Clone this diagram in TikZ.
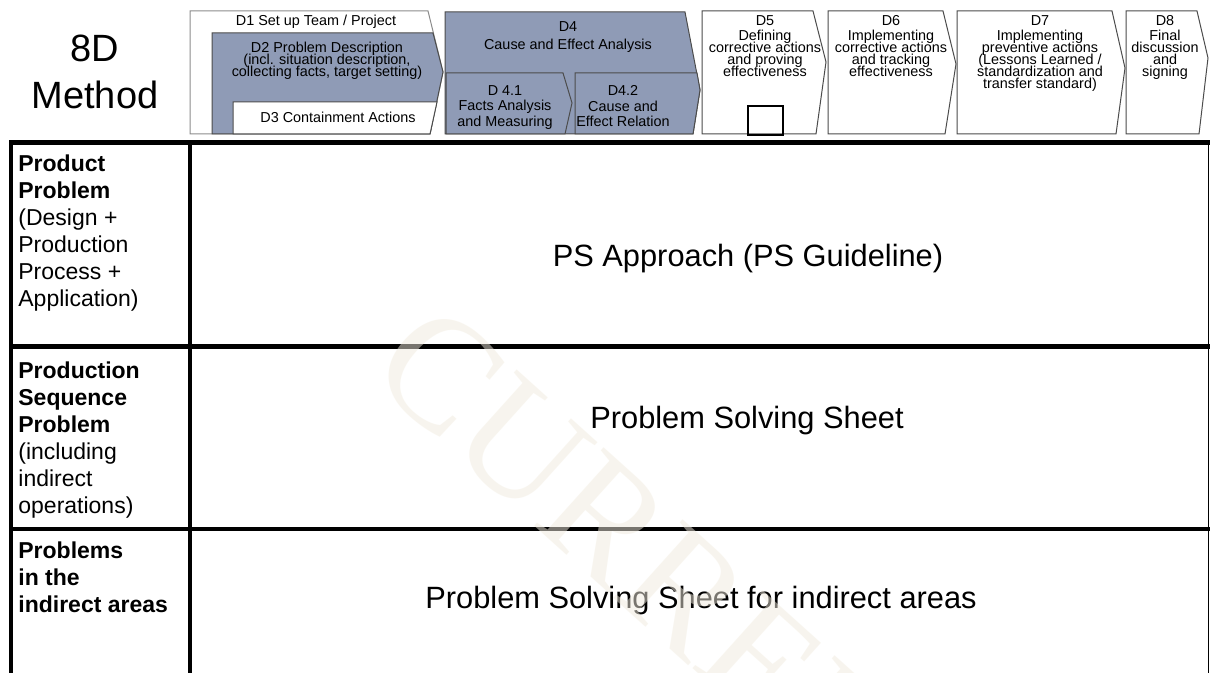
\documentclass[tikz,border=0pt]{standalone}
\usepackage{fontspec}
\setmainfont{Liberation Sans}
\newfontfamily\stampfont{Liberation Serif}
\usetikzlibrary{positioning}
\definecolor{stepblue}{RGB}{143,155,182}
\definecolor{stampcolor}{RGB}{241,235,222}
\newcommand{\hdrfont}{\fontsize{7.2}{6}\selectfont\lineskiplimit=-10pt}

\begin{document}
\begin{tikzpicture}[x=0.5pt,y=-0.5pt]
    \tikzstyle{chevwhite} = [draw=black!70,line width=0.5pt,fill=white]
    \tikzstyle{chevblue} = [chevwhite,fill=stepblue]
    \tikzstyle{hdr} = [font=\hdrfont,align=center,inner sep=0,anchor=north]
    \tikzstyle{rowhead} = [font=\fontsize{11.5}{13.5}\selectfont,align=left,inner sep=0,anchor=north west]
    \tikzstyle{rowtext} = [font=\fontsize{15.4}{18}\selectfont,inner sep=0,anchor=base]
    \tikzstyle{tableline} = [line width=2.4pt]
      \clip (0,0) rectangle (1210,673);
      \fill[white] (0,0) rectangle (1210,673);
      \draw[chevwhite,draw=black!45] (190,11) -- (428,11) -- (443,72) -- (430,134) -- (190,134) -- cycle;
      \draw[chevblue] (212,33) -- (433,33) -- (443,72) -- (430,134) -- (212,134) -- cycle;
      \draw[chevwhite] (233,102) -- (437,102) -- (430,134) -- (233,134) -- cycle;
      \draw[chevblue] (445,12) -- (685,12) -- (700,90) -- (693,134) -- (445,134) -- cycle;
      \draw[chevblue] (446,73) -- (563,73) -- (572,103) -- (565,134) -- (446,134) -- cycle;
      \draw[chevblue] (575,73) -- (697,73) -- (700,90) -- (693,134) -- (575,134) -- cycle;
      \foreach \l/\t/\tx/\ty/\b in {702/813/826/62/816,828/943/956/64/945,957/1112/1125/68/1116,1126/1197/1208/58/1199}
        \draw[chevwhite] (\l,11) -- (\t,11) -- (\tx,\ty) -- (\b,134) -- (\l,134) -- cycle;
      \draw[line width=0.6pt] (748,106) rectangle (783,135);
      \node[font=\fontsize{19}{23.5}\selectfont,align=center,inner sep=0,anchor=north] (title) at (95,35) {8D\\Method};
      \node[hdr] (d1) at (316,15) {D1 Set up Team / Project};
      \node[hdr] (d2) at (327,42) {D2 Problem Description\\(incl. situation description,\\collecting facts, target setting)};
      \node[hdr] (d3) at (338,112) {D3 Containment Actions};
      \node[hdr] (d4) at (568,21) {D4\\[3pt]Cause and Effect Analysis};
      \node[hdr,font=\fontsize{7.2}{7.8}\selectfont] (d41) at (505,85) {D 4.1\\Facts Analysis\\and Measuring};
      \node[hdr,font=\fontsize{7.2}{7.8}\selectfont] (d42) at (623,85) {D4.2\\Cause and\\Effect Relation};
      \node[hdr] (d5) at (765,15) {D5\\[1.5pt]Defining\\corrective actions\\and proving\\effectiveness};
      \node[hdr] (d6) at (891,15) {D6\\[1.5pt]Implementing\\corrective actions\\and tracking\\effectiveness};
      \node[hdr] (d7) at (1040,15) {D7\\[1.5pt]Implementing\\preventive actions\\(Lessons Learned /\\standardization and\\transfer standard)};
      \node[hdr] (d8) at (1165,15) {D8\\[1.5pt]Final\\discussion\\and\\signing};
      \node[rowhead] (prod) at (18,154) {\textbf{Product}\\\textbf{Problem}\\(Design +\\Production\\Process +\\Application)};
      \node[rowhead] (seq) at (18,361) {\textbf{Production}\\\textbf{Sequence}\\\textbf{Problem}\\(including\\indirect\\operations)};
      \node[rowhead] (ind) at (18,541) {\textbf{Problems}\\\textbf{in the}\\\textbf{indirect areas}};
      \node[rowtext] (ps) at (748,267) {PS Approach (PS Guideline)};
      \node[rowtext] (pss) at (747,429) {Problem Solving Sheet};
      \node[rowtext] (pssi) at (701,608) {Problem Solving Sheet for indirect areas};
      \draw[tableline] (9,142.5) -- (1210,142.5);
      \draw[tableline] (9,346.5) -- (1210,346.5);
      \draw[tableline] (9,529) -- (1210,529);
      \draw[tableline] (11,141) -- (11,673);
      \draw[tableline] (190,141) -- (190,673);
      \draw[line width=0.7pt] (1208.5,142) -- (1208.5,673);
      \node[font=\stampfont\fontsize{80}{80}\selectfont,text=stampcolor,opacity=0.5,rotate=-42,anchor=west,inner sep=0] (stamp) at (400,335) {CURRENT};
  \end{tikzpicture}
\end{document}
